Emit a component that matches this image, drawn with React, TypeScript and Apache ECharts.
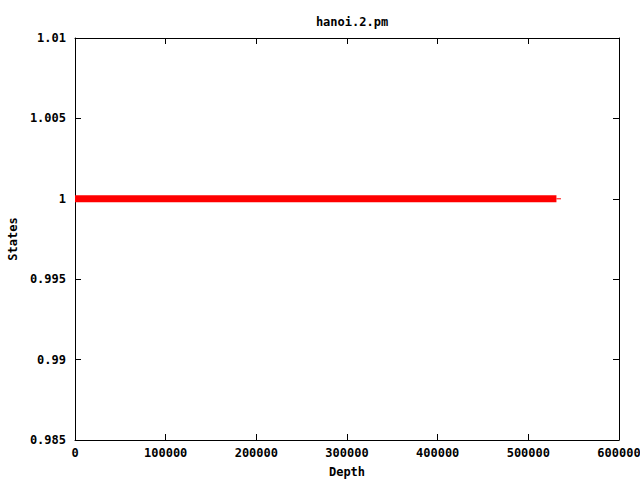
import React, { useEffect, useRef } from "react";
import * as echarts from "echarts";

const titleText = "hanoi.2.pm";
const xName = "Depth";
const yName = "States";
const mainDepth = [0, 531000];
const mainStates = [1, 1];
const tailDepth = [531000, 536000];
const tailStates = [1, 1];

const FONT = "'DejaVu Sans Mono', monospace";

export default function App() {
  const ref = useRef<HTMLDivElement>(null);
  useEffect(() => {
    const chart = echarts.init(ref.current!, null, { renderer: "svg" });
    const fmtY = (v: number) => String(parseFloat(v.toFixed(4)));
    const fmtX = (v: number) => String(Math.round(v));
    const txt = { fontFamily: FONT, fontWeight: "bold", fontSize: 12, color: "#000" };
    chart.setOption({
      animation: false,
      backgroundColor: "#ffffff",
      title: {
        text: titleText,
        left: 347,
        top: 11,
        textAlign: "center",
        textStyle: txt,
      },
      grid: { left: 75, right: 21, top: 38, bottom: 40, containLabel: false, outerBoundsMode: "none" },
      xAxis: [
        {
          type: "value",
          min: 0,
          max: 600000,
          interval: 100000,
          name: xName,
          nameLocation: "middle",
          nameGap: 26,
          nameTextStyle: txt,
          axisLine: { show: true, onZero: false, lineStyle: { color: "#000", width: 1 } },
          axisTick: { show: true, inside: true, length: 6, lineStyle: { color: "#000" } },
          axisLabel: { ...txt, margin: 7, formatter: fmtX },
          splitLine: { show: false },
        },
        {
          type: "value",
          position: "top",
          min: 0,
          max: 600000,
          interval: 100000,
          axisLine: { show: true, onZero: false, lineStyle: { color: "#000", width: 1 } },
          axisTick: { show: true, inside: true, length: 6, lineStyle: { color: "#000" } },
          axisLabel: { show: false },
          splitLine: { show: false },
        },
      ],
      yAxis: [
        {
          type: "value",
          min: 0.985,
          max: 1.01,
          interval: 0.005,
          name: yName,
          nameLocation: "middle",
          nameGap: 54,
          nameRotate: 90,
          nameTextStyle: txt,
          axisLine: { show: true, onZero: false, lineStyle: { color: "#000", width: 1 } },
          axisTick: { show: true, inside: true, length: 6, lineStyle: { color: "#000" } },
          axisLabel: { ...txt, margin: 9, formatter: fmtY },
          splitLine: { show: false },
        },
        {
          type: "value",
          position: "right",
          min: 0.985,
          max: 1.01,
          interval: 0.005,
          axisLine: { show: true, onZero: false, lineStyle: { color: "#000", width: 1 } },
          axisTick: { show: true, inside: true, length: 6, lineStyle: { color: "#000" } },
          axisLabel: { show: false },
          splitLine: { show: false },
        },
      ],
      series: [
        {
          type: "line",
          data: mainDepth.map((d, i) => [d, mainStates[i]]),
          showSymbol: false,
          lineStyle: { color: "#ff0000", width: 7 },
          z: 3,
        },
        {
          type: "line",
          data: tailDepth.map((d, i) => [d, tailStates[i]]),
          showSymbol: false,
          lineStyle: { color: "#ff0000", width: 1 },
          z: 3,
        },
      ],
    });
    return () => chart.dispose();
  }, []);
  return <div ref={ref} style={{ position: "fixed", left: 0, top: 0, width: 640, height: 480 }} />;
}
